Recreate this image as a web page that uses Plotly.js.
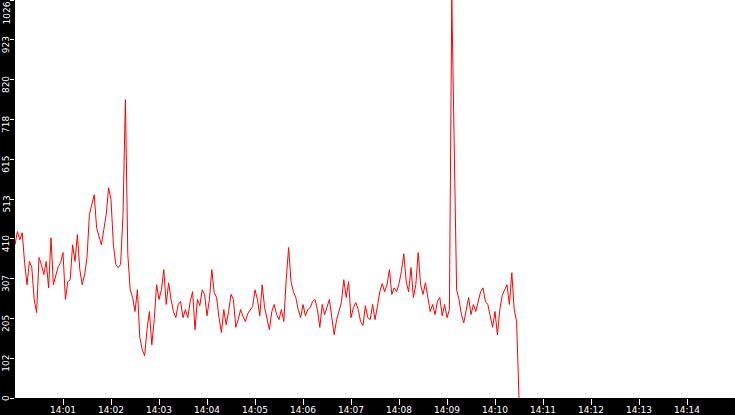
<!DOCTYPE html>
<html>
<head>
<meta charset="utf-8">
<script src="https://cdn.plot.ly/plotly-3.0.1.min.js"></script>
<style>
  html, body { margin: 0; padding: 0; background: #000; }
  #chart { width: 735px; height: 415px; }
</style>
</head>
<body>
<div id="chart"></div>
<script>
/* ── data: one sample every 3 s from 14:00:00 ── */
const DAY        = "2024-01-01";
const START_SEC  = 14 * 3600;
const STEP_SEC   = 3;

const values = [
  395, 429, 408, 426, 349, 292, 352, 336, 254, 220,
  362, 344, 318, 352, 284, 413, 292, 318, 339, 349,
  375, 254, 300, 305, 395, 352, 421, 331, 292, 318,
  362, 473, 498, 524, 439, 413, 395, 434, 473, 542,
  511, 395, 344, 336, 344, 473, 769, 370, 279, 259,
  223, 279, 156, 125, 109, 176, 223, 137, 202, 292,
  254, 279, 331, 241, 297, 254, 223, 207, 241, 249,
  207, 228, 207, 249, 274, 176, 254, 238, 279, 267,
  212, 254, 331, 272, 259, 207, 169, 228, 189, 223,
  267, 254, 182, 202, 228, 210, 197, 218, 228, 236,
  279, 254, 212, 292, 233, 207, 176, 223, 241, 215,
  202, 228, 197, 305, 388, 300, 274, 259, 228, 207,
  241, 212, 228, 233, 249, 254, 228, 182, 241, 215,
  233, 254, 207, 163, 202, 228, 246, 305, 259, 300,
  207, 233, 246, 228, 197, 187, 238, 207, 202, 241,
  202, 236, 274, 295, 274, 292, 331, 267, 284, 274,
  295, 326, 372, 300, 274, 336, 259, 292, 375, 292,
  267, 297, 254, 223, 241, 215, 249, 259, 212, 241,
  207, 228, 1030, 640, 279, 254, 215, 194, 223, 259,
  215, 241, 223, 249, 274, 284, 249, 241, 207, 182,
  223, 163, 228, 264, 279, 292, 241, 323, 228, 197,
  0
];

const xTickLabels = ["14:01", "14:02", "14:03", "14:04", "14:05", "14:06", "14:07",
                     "14:08", "14:09", "14:10", "14:11", "14:12", "14:13", "14:14"];
const yTickVals   = [0, 102.6, 205.2, 307.8, 410.4, 513, 615.6, 718.2, 820.8, 923.4, 1026];
const yTickLabels = ["0", "102", "205", "307", "410", "513", "615", "718", "820", "923", "1026"];

const X_START = DAY + " 14:00:00";
const X_END   = DAY + " 14:15:00";

function stamp(sec) {
  const p = n => String(n).padStart(2, "0");
  return `${DAY} ${p(Math.floor(sec / 3600))}:${p(Math.floor(sec / 60) % 60)}:${p(sec % 60)}`;
}

const times = values.map((_, i) => stamp(START_SEC + i * STEP_SEC));

const FONT = { family: "DejaVu Sans", size: 9, color: "#fff" };

const trace = {
  type: "scatter",
  mode: "lines",
  x: times,
  y: values,
  line: { color: "#ff0000", width: 1 },
  hoverinfo: "skip",
  showlegend: false,
};

/* rotated y labels: top edge sits just above the tick */
const annotations = yTickVals.map((v, i) => ({
  xref: "paper", yref: "y",
  x: 0, y: v,
  xanchor: "right", yanchor: "top",
  xshift: -4,
  yshift: i === yTickVals.length - 1 ? -2 : 3,
  text: yTickLabels[i],
  textangle: -90,
  showarrow: false,
  font: FONT,
  borderpad: 0, borderwidth: 0,
}));

const layout = {
  width: 735, height: 415,
  paper_bgcolor: "#000",
  plot_bgcolor:  "#fff",
  margin: { l: 15, r: 0, t: 0, b: 17 },
  showlegend: false,
  xaxis: {
    type: "date",
    range: [X_START, X_END],
    tickvals: xTickLabels.map(t => `${DAY} ${t}:00`),
    ticktext: xTickLabels,
    ticks: "outside", ticklen: 6, tickwidth: 1, tickcolor: "#fff",
    ticklabelstandoff: -3,
    tickfont: FONT,
    showgrid: false, zeroline: false, showline: false,
    fixedrange: true,
  },
  yaxis: {
    range: [0, 1026],
    tickvals: yTickVals,
    ticks: "outside", ticklen: 4, tickwidth: 1, tickcolor: "#fff",
    showticklabels: false,
    showgrid: false, zeroline: false, showline: false,
    fixedrange: true,
  },
  annotations,
};

Plotly.newPlot("chart", [trace], layout, { displayModeBar: false, staticPlot: true });
</script>
</body>
</html>
